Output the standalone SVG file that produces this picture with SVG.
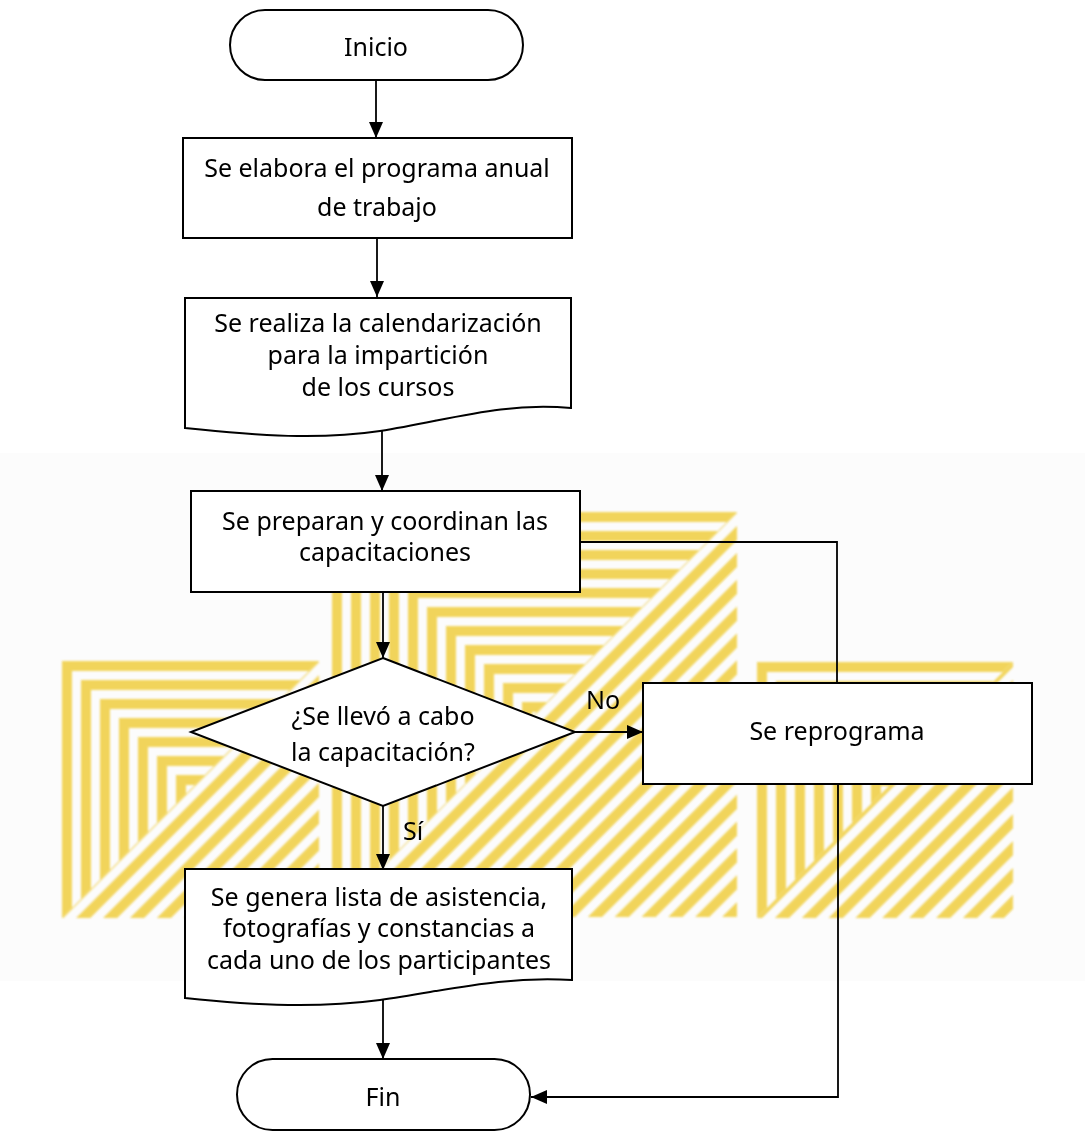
<svg xmlns="http://www.w3.org/2000/svg" width="1085" height="1132" viewBox="0 0 1085 1132">
<style>
.node{fill:#fff;stroke:#000;stroke-width:2}
.conn{fill:none;stroke:#000;stroke-width:1.8}
.t{font-family:"Noto Sans","Open Sans","Liberation Sans",sans-serif;font-size:25px;fill:#000;text-anchor:middle}
.gam{fill:none;stroke:#f0cf45;stroke-width:10}
</style>
<defs>
<marker id="ah" markerUnits="userSpaceOnUse" markerWidth="16" markerHeight="14" refX="16" refY="7" orient="auto">
<path d="M0,0 L16,7 L0,14 z" fill="#000"/>
</marker>
<pattern id="diag" patternUnits="userSpaceOnUse" width="19" height="19" patternTransform="rotate(45)">
<rect x="0" y="0" width="10" height="19" fill="#f0cf45"/>
</pattern>
<clipPath id="ulL"><polygon points="62,661 319,661 62,918"/></clipPath>
<clipPath id="ulR"><polygon points="757,662 1013,662 757,918"/></clipPath>
<clipPath id="ulM"><polygon points="332,512 737,512 332,917"/></clipPath>
<filter id="soft"><feGaussianBlur stdDeviation="1.3"/></filter>
</defs>
<rect x="0" y="0" width="1085" height="1132" fill="#fff"/>
<rect x="0" y="453" width="1085" height="528" fill="#fcfcfc"/>
<g id="watermark" filter="url(#soft)" opacity="0.88">
<g clip-path="url(#ulL)">
<path class="gam" d="M67,918V666H319M86,918V685H319M105,918V704H319M124,918V723H319M143,918V742H319M162,918V761H319M181,918V780H319"/>
</g>
<polygon points="319,661 319,918 62,918" fill="url(#diag)"/>
<g clip-path="url(#ulM)">
<path class="gam" d="M337,917V517H737M356,917V536H737M375,917V555H737M394,917V574H737M413,917V593H737M432,917V612H737M451,917V631H737M470,917V650H737M489,917V669H737M508,917V688H737M527,917V707H737"/>
</g>
<polygon points="737,512 737,917 332,917" fill="url(#diag)"/>
<g clip-path="url(#ulR)">
<path class="gam" d="M762,918V667H1013M781,918V686H1013M800,918V705H1013M819,918V724H1013M838,918V743H1013M857,918V762H1013M876,918V781H1013"/>
</g>
<polygon points="1013,662 1013,918 757,918" fill="url(#diag)"/>
</g>
<g id="connectors">
<path class="conn" d="M376,80V138" marker-end="url(#ah)"/>
<path class="conn" d="M377,238V297" marker-end="url(#ah)"/>
<path class="conn" d="M382,431V491" marker-end="url(#ah)"/>
<path class="conn" d="M383,592V658" marker-end="url(#ah)"/>
<path class="conn" d="M575,732H643" marker-end="url(#ah)"/>
<path class="conn" d="M383,806V870" marker-end="url(#ah)"/>
<path class="conn" d="M383,1000V1059" marker-end="url(#ah)"/>
<path class="conn" d="M580,542H837V683"/>
<path class="conn" d="M838,784V1097H531" marker-end="url(#ah)"/>
<text class="t" x="603" y="709">No</text>
<text class="t" x="413" y="840">Sí</text>
</g>
<g id="inicio">
<rect class="node" x="230" y="10" width="293" height="70" rx="35"/>
<text class="t" x="376" y="56">Inicio</text>
</g>
<g id="elabora">
<rect class="node" x="183" y="138" width="389" height="100"/>
<text class="t" x="377" y="177">Se elabora el programa anual</text>
<text class="t" x="377" y="216">de trabajo</text>
</g>
<g id="calendarizacion">
<path class="node" d="M185,298H571V408C500,402 450,420 380,431C320,440 260,436 185,428Z"/>
<text class="t" x="378" y="332">Se realiza la calendarización</text>
<text class="t" x="378" y="364">para la impartición</text>
<text class="t" x="378" y="396">de los cursos</text>
</g>
<g id="preparan">
<rect class="node" x="191" y="491" width="389" height="101"/>
<text class="t" x="385" y="530">Se preparan y coordinan las</text>
<text class="t" x="385" y="561">capacitaciones</text>
</g>
<g id="decision">
<polygon class="node" points="383,658 575,732 383,806 191,732"/>
<text class="t" x="383" y="725">¿Se llevó a cabo</text>
<text class="t" x="383" y="761">la capacitación?</text>
</g>
<g id="reprograma">
<rect class="node" x="643" y="683" width="389" height="101"/>
<text class="t" x="837" y="740">Se reprograma</text>
</g>
<g id="genera">
<path class="node" d="M185,869H572V980C500,976 450,990 380,1000C320,1008 260,1006 185,998Z"/>
<text class="t" x="379" y="906">Se genera lista de asistencia,</text>
<text class="t" x="379" y="937">fotografías y constancias a</text>
<text class="t" x="379" y="969">cada uno de los participantes</text>
</g>
<g id="fin">
<rect class="node" x="237" y="1059" width="293" height="71" rx="35.5"/>
<text class="t" x="383" y="1106">Fin</text>
</g>
</svg>
